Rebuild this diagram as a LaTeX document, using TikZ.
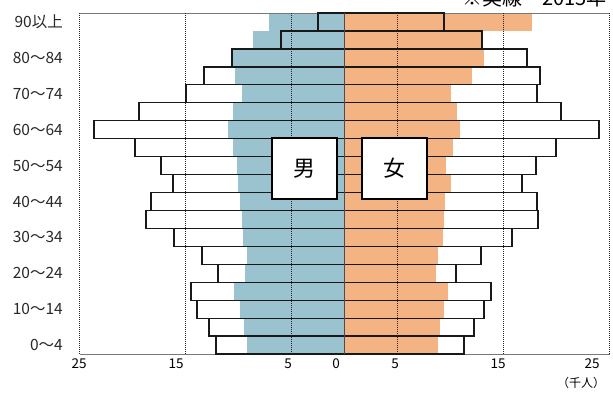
\documentclass[tikz,border=0pt]{standalone}
\usepackage{fontspec}
\setmainfont{Noto Sans CJK JP}
\definecolor{mblue}{RGB}{155,195,207}
\definecolor{forange}{RGB}{243,179,130}
\definecolor{framegray}{RGB}{120,120,120}
\definecolor{labgray}{RGB}{40,40,40}
\begin{document}
\begin{tikzpicture}[x=1pt,y=-1pt,
  barline/.style={draw=black!90, line width=1.3pt},
  gridline/.style={black!85, densely dotted, line width=1pt},
  agelab/.style={anchor=east, inner sep=0pt, font=\fontsize{15.5}{15.5}\selectfont, text=labgray},
  axlab/.style={inner sep=0pt, font=\fontsize{13.5}{13.5}\selectfont, text=black},
  sexbox/.style={draw=black, fill=white, line width=1.3pt, minimum width=65pt, minimum height=61pt, inner sep=0pt, font=\fontsize{22}{22}\selectfont}]
\useasboundingbox (0,0) rectangle (613,392);
\def\cx{344.5}
\def\rh{17.95}
% coloured bars
\foreach \mb/\ff [count=\i from 0] in {269/532,253/482,233/484,235/472,242/451,233/457,228/460,233/453,237/446,238/451,240/445,242/444,243/443,247/438,245/436,234/448,240/444,244/440,247/438}{
  \pgfmathsetmacro{\yt}{13+\rh*\i}
  \pgfmathsetmacro{\yb}{13+\rh*(\i+1)}
  \fill[mblue] (\mb,\yt) rectangle (\cx,\yb);
  \fill[forange] (\cx,\yt) rectangle (\ff,\yb);
}
% frame and grid
\draw[framegray, line width=0.8pt] (79.5,13) -- (609.5,13);
\draw[framegray, line width=0.8pt] (79.5,354) -- (609.5,354);
\foreach \gx in {79.5,185.5,291.5,397.5,503.5,609.5}{
  \draw[gridline] (\gx,13) -- (\gx,354);
}
% outline bars (2015)
\foreach \mo/\fo [count=\i from 0] in {318/444,281/482,232/527,204/540,186/537,139/561,94/599,135/556,161/536,173/522,151/537,146/538,174/512,202/481,218/456,191/491,197/484,209/474,216/464}{
  \pgfmathsetmacro{\yt}{13+\rh*\i}
  \pgfmathsetmacro{\yb}{13+\rh*(\i+1)}
  \draw[barline] (\mo,\yt) rectangle (\cx,\yb);
  \draw[barline] (\cx,\yt) rectangle (\fo,\yb);
}
\draw[black!70, line width=1pt] (\cx,13) -- (\cx,354);
% sex labels
\node[sexbox] (male) at (304.5,168.5) {男};
\node[sexbox] (female) at (394.5,168.5) {女};
% age labels
\foreach \lab [count=\k from 0] in {90以上,80～84,70～74,60～64,50～54,40～44,30～34,20～24,10～14,0～4}{
  \pgfmathsetmacro{\yc}{13+\rh*(2*\k+0.5)}
  \node[agelab] at (63,\yc) {\lab};
}
% x axis labels
\foreach \xl/\t in {79/25,176/15,288/5,336/0,395/5,498/15,592/25}{
  \node[axlab] at (\xl,364) {\t};
}
\node[inner sep=0pt, font=\fontsize{12}{12}\selectfont] (unit) at (581,383) {（千人）};
% title (cut off at top, as in the reference)
\node[anchor=base west, inner sep=0pt, font=\fontsize{20}{20}\selectfont] (title) at (462,5) {※実線　2015年};
\end{tikzpicture}
\end{document}
